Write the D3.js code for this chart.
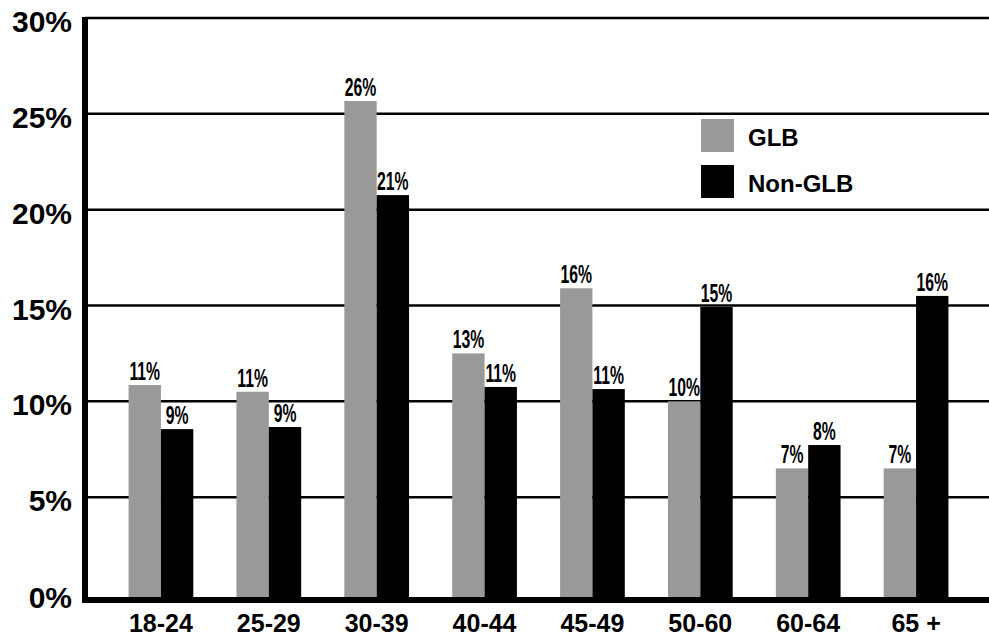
<!DOCTYPE html>
<html>
<head>
<meta charset="utf-8">
<script src="https://cdn.jsdelivr.net/npm/d3@7"></script>
<style>
  html, body { margin: 0; padding: 0; background: #fff; }
  svg { display: block; }
  text { font-family: "Liberation Sans", Arial, sans-serif; font-weight: bold; fill: #000; }
</style>
</head>
<body>
<svg id="chart" width="989" height="637"></svg>
<script>
// Age groups and share of each group (percent)
const categories = ["18-24", "25-29", "30-39", "40-44", "45-49", "50-60", "60-64", "65 +"];
const seriesNames = ["GLB", "Non-GLB"];
const glbValues = [10.85, 10.5, 25.67, 12.5, 15.9, 10.0, 6.5, 6.5];
const nonGlbValues = [8.55, 8.66, 20.76, 10.75, 10.64, 14.92, 7.72, 15.5];
const yTicks = [0, 5, 10, 15, 20, 25, 30];
const colors = ["#999999", "#000000"];

const svg = d3.select("#chart");
const W = 989;

const y = d3.scaleLinear().domain([0, 30]).range([593, 18]);
const x = d3.scaleBand().domain(categories).range([107, 970]).paddingInner(0.4).paddingOuter(0.2);
const xs = d3.scaleBand().domain(seriesNames).range([0, x.bandwidth()]);
const color = d3.scaleOrdinal().domain(seriesNames).range(colors);

const axisLeftX = 85;
const baseY = 600;

// horizontal gridlines
svg.append("g").selectAll("line")
  .data(yTicks.filter(d => d > 0))
  .join("line")
  .attr("x1", axisLeftX).attr("x2", W)
  .attr("y1", d => y(d)).attr("y2", d => y(d))
  .attr("stroke", "#000").attr("stroke-width", 2.5);

// y tick labels
svg.append("g").selectAll("text")
  .data(yTicks)
  .join("text")
  .attr("x", 72)
  .attr("y", d => d === 0 ? baseY + 8 : y(d) + 14)
  .attr("text-anchor", "end")
  .attr("font-size", 30)
  .text(d => d + "%");

// bars
const rows = categories.map((c, i) => ({ cat: c, values: [
  { key: "GLB", value: glbValues[i] },
  { key: "Non-GLB", value: nonGlbValues[i] }
]}));

const groups = svg.append("g").selectAll("g")
  .data(rows)
  .join("g")
  .attr("transform", d => `translate(${x(d.cat)},0)`);

groups.selectAll("rect")
  .data(d => d.values)
  .join("rect")
  .attr("x", d => xs(d.key))
  .attr("width", xs.bandwidth())
  .attr("y", d => y(d.value))
  .attr("height", d => baseY - y(d.value))
  .attr("fill", d => color(d.key));

// value labels above bars, in a condensed face
groups.selectAll("text")
  .data(d => d.values)
  .join("text")
  .attr("transform", d => `translate(${xs(d.key) + xs.bandwidth() / 2},${y(d.value) - 5}) scale(0.63,1)`)
  .attr("text-anchor", "middle")
  .attr("font-size", 25)
  .text(d => Math.round(d.value) + "%");

// axes lines
svg.append("line")
  .attr("x1", axisLeftX).attr("x2", axisLeftX)
  .attr("y1", 17).attr("y2", baseY + 3)
  .attr("stroke", "#000").attr("stroke-width", 6);
svg.append("line")
  .attr("x1", axisLeftX - 3).attr("x2", W)
  .attr("y1", baseY).attr("y2", baseY)
  .attr("stroke", "#000").attr("stroke-width", 6);

// category labels
svg.append("g").selectAll("text")
  .data(categories)
  .join("text")
  .attr("x", d => x(d) + x.bandwidth() / 2)
  .attr("y", 632)
  .attr("text-anchor", "middle")
  .attr("font-size", 25)
  .text(d => d);

// legend
const legend = svg.append("g").attr("transform", "translate(701,119)");
const li = legend.selectAll("g").data(seriesNames).join("g")
  .attr("transform", (d, i) => `translate(0,${i * 46})`);
li.append("rect").attr("width", 33).attr("height", 33).attr("fill", d => color(d));
li.append("text").attr("x", 47).attr("y", 27).attr("font-size", 24).text(d => d);
</script>
</body>
</html>
